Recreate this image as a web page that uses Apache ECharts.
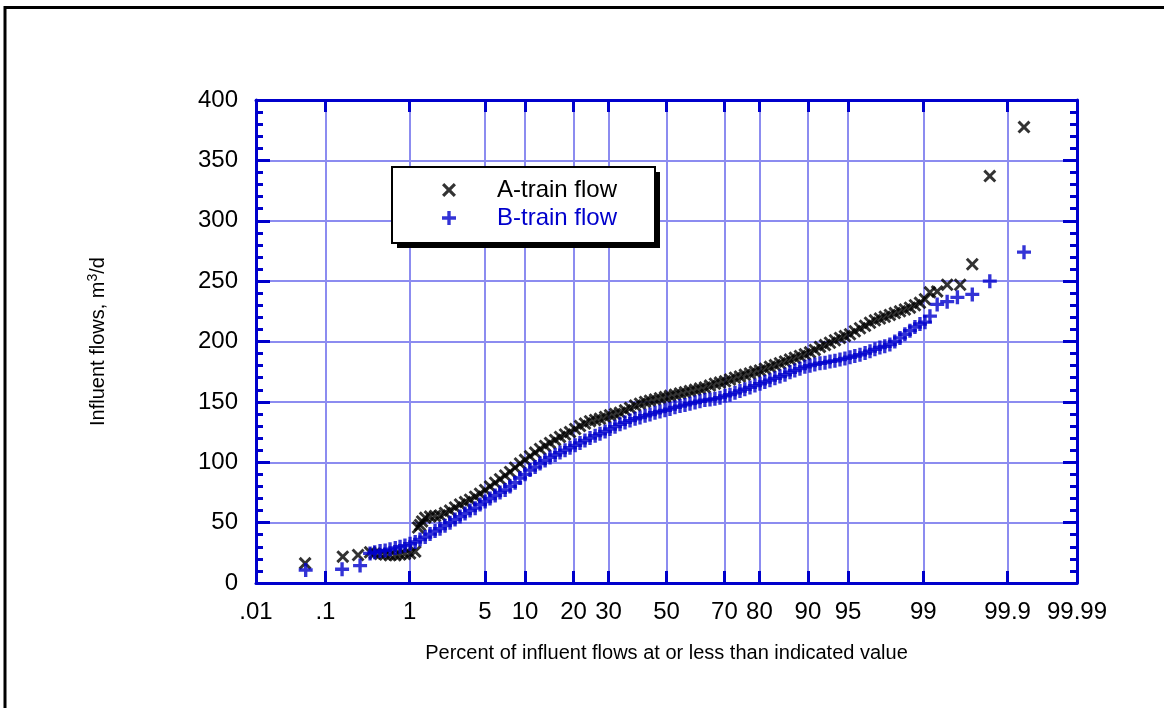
<!DOCTYPE html>
<html>
<head>
<meta charset="utf-8">
<script src="https://cdn.jsdelivr.net/npm/echarts@6/dist/echarts.min.js"></script>
<style>
  html, body { margin: 0; padding: 0; background: #fff; }
  #main { width: 1164px; height: 708px; }
</style>
</head>
<body>
<div id="main"></div>
<script>
"use strict"

// probability scale tick labels (percent)
var tickPct = [0.01, 0.1, 1, 5, 10, 20, 30, 50, 70, 80, 90, 95, 99, 99.9, 99.99];
var tickText = ['.01', '.1', '1', '5', '10', '20', '30', '50', '70', '80', '90', '95', '99', '99.9', '99.99'];

// A-train flow: percent at or below, flow m3/d
var aPct = [0.053, 0.168, 0.26, 0.362, 0.41, 0.473, 0.54, 0.613, 0.70, 0.789, 0.89, 1.008, 1.14, 1.22, 1.278, 1.34, 1.44,
  1.609, 1.80, 2.01, 2.24, 2.494, 2.77, 3.071, 3.40, 3.755, 4.15, 4.558, 5.02, 5.494, 6.03, 6.576, 7.19, 7.815, 8.51,
  9.225, 10.0, 10.815, 11.7, 12.594, 13.57, 14.565, 15.65, 16.735, 17.9, 19.104, 20.4, 21.666, 23.0, 24.419, 25.9,
  27.345, 28.9, 30.44, 32.05, 33.68, 35.35, 37.05, 38.8, 40.52, 42.3, 44.06, 45.85, 47.65, 49.45, 51.26, 53.05, 54.87,
  56.65, 58.43, 60.2, 61.92, 63.6, 65.32, 66.95, 68.6, 70.2, 71.74, 73.25, 74.72, 76.1, 77.53, 78.85, 80.15, 81.35,
  82.57, 83.7, 84.8, 85.85, 86.84, 87.75, 88.67, 89.5, 90.32, 91.05, 91.78, 92.45, 93.07, 93.65, 94.2, 94.7, 95.18,
  95.6, 96.02, 96.4, 96.74, 97.05, 97.34, 97.6, 97.85, 98.07, 98.28, 98.46, 98.63, 98.78, 98.917, 99.04,
  99.15, 99.29, 99.45, 99.61, 99.72, 99.83, 99.94];
var aFlow = [16.3, 21.8, 23.2, 25.5, 24.5, 24, 23.5, 23, 23, 23.5, 24, 24.5, 26, 46, 48, 51, 54,
  55, 55.5, 56, 58, 60, 62.5, 65, 67, 69, 71.5, 74, 77, 80, 83, 86, 89, 92, 95.5,
  99, 102, 105, 108, 111, 113.5, 116, 118.5, 121, 123, 125, 127.5, 130, 132, 134, 135,
  136, 137.5, 139, 140, 141, 143, 145, 147, 148.5, 150, 151, 152, 153, 154, 155, 156, 157,
  158, 159, 160, 161, 162, 163.5, 165, 166, 167, 168.5, 170, 171, 172.5, 173.5, 175, 176, 177.5,
  179, 180.5, 182, 183.5, 185, 186.5, 188, 189.5, 191, 193, 195.5, 197, 199, 201, 203, 204.5, 206,
  208.5, 211, 213, 215.5, 217.5, 219, 220.5, 222, 223.5, 225, 226.5, 228, 230, 232, 235,
  240.7, 241.5, 247, 247, 264, 337, 377.6];

// B-train flow
var bPct = [0.054, 0.1645, 0.275, 0.362, 0.41, 0.473, 0.54, 0.613, 0.70, 0.789, 0.89, 1.008, 1.14, 1.278, 1.44,
  1.609, 1.80, 2.01, 2.24, 2.494, 2.77, 3.071, 3.40, 3.755, 4.15, 4.558, 5.02, 5.494, 6.03, 6.576, 7.19, 7.815, 8.51,
  9.225, 10.0, 10.815, 11.7, 12.594, 13.57, 14.565, 15.65, 16.735, 17.9, 19.104, 20.4, 21.666, 23.0, 24.419, 25.9,
  27.345, 28.9, 30.44, 32.05, 33.68, 35.35, 37.05, 38.8, 40.52, 42.3, 44.06, 45.85, 47.65, 49.45, 51.26, 53.05, 54.87,
  56.65, 58.43, 60.2, 61.92, 63.6, 65.32, 66.95, 68.6, 70.2, 71.74, 73.25, 74.72, 76.1, 77.53, 78.85, 80.15, 81.35,
  82.57, 83.7, 84.8, 85.85, 86.84, 87.75, 88.67, 89.5, 90.32, 91.05, 91.78, 92.45, 93.07, 93.65, 94.2, 94.7, 95.18,
  95.6, 96.02, 96.4, 96.74, 97.05, 97.34, 97.6, 97.85, 98.07, 98.28, 98.46, 98.63, 98.78, 98.917, 99.04,
  99.15, 99.29, 99.45, 99.58, 99.72, 99.83, 99.94];
var bFlow = [10.8, 11.4, 14.4, 24.5, 25.5, 26.5, 27, 28, 29, 30, 31, 32.5, 34, 36, 38,
  40.5, 43, 45, 47.5, 50, 52.5, 55, 57.5, 60, 62, 65, 67.5, 70, 72.5, 75, 77, 80, 83,
  87, 90, 93.5, 96, 99, 101.5, 104, 106, 108, 110, 112, 114, 116, 118, 120, 122,
  123.5, 125.5, 127.5, 129.5, 131.5, 133, 134.5, 136, 137, 138.5, 139.5, 141, 142, 143, 144, 145.5, 146.5,
  147.5, 148.5, 149.5, 150.5, 151.5, 152, 152.5, 153.5, 155, 156, 157.5, 159, 160.5, 162, 163.5, 165, 166.5,
  168, 169.5, 171, 172.5, 174.5, 176, 177.5, 179, 180, 181, 182, 182.5, 183.5, 184, 185, 186, 187,
  188, 189, 190.5, 192, 193.5, 195, 196, 197.5, 200, 203, 206, 209, 212, 214.5, 216,
  221, 230.7, 233, 236.6, 239, 250, 274];

// inverse normal cdf (Acklam) for the probability axis
function probit(p) {
  var a = [-3.969683028665376e+01, 2.209460984245205e+02, -2.759285104469687e+02, 1.383577518672690e+02, -3.066479806614716e+01, 2.506628277459239e+00];
  var b = [-5.447609879822406e+01, 1.615858368580409e+02, -1.556989798598866e+02, 6.680131188771972e+01, -1.328068155288572e+01];
  var c = [-7.784894002430293e-03, -3.223964580411365e-01, -2.400758277161838e+00, -2.549732539343734e+00, 4.374664141464968e+00, 2.938163982698783e+00];
  var d = [7.784695709041462e-03, 3.224671290700398e-01, 2.445134137142996e+00, 3.754408661907416e+00];
  var pl = 0.02425, q, r;
  if (p < pl) {
    q = Math.sqrt(-2 * Math.log(p));
    return (((((c[0] * q + c[1]) * q + c[2]) * q + c[3]) * q + c[4]) * q + c[5]) / ((((d[0] * q + d[1]) * q + d[2]) * q + d[3]) * q + 1);
  }
  if (p <= 1 - pl) {
    q = p - 0.5; r = q * q;
    return (((((a[0] * r + a[1]) * r + a[2]) * r + a[3]) * r + a[4]) * r + a[5]) * q / (((((b[0] * r + b[1]) * r + b[2]) * r + b[3]) * r + b[4]) * r + 1);
  }
  q = Math.sqrt(-2 * Math.log(1 - p));
  return -(((((c[0] * q + c[1]) * q + c[2]) * q + c[3]) * q + c[4]) * q + c[5]) / ((((d[0] * q + d[1]) * q + d[2]) * q + d[3]) * q + 1);
}

function toPoints(pct, flow) {
  var out = [];
  for (var i = 0; i < pct.length; i++) out.push([probit(pct[i] / 100), flow[i]]);
  return out;
}

var tickZ = tickPct.map(function (p) { return probit(p / 100); });
var zMin = tickZ[0], zMax = tickZ[tickZ.length - 1];

function tickLabel(v) {
  for (var i = 0; i < tickZ.length; i++) {
    if (Math.abs(tickZ[i] - v) < 1e-6) return tickText[i];
  }
  return '';
}

var BLUE = '#0000cc';
var GRID = '#8c8cf0';
var FONT = '"Liberation Sans", Arial, sans-serif';

// marker shapes: x for A-train, + for B-train
var crossPath = 'path://M0,1.6L1.6,0L5,3.4L8.4,0L10,1.6L6.6,5L10,8.4L8.4,10L5,6.6L1.6,10L0,8.4L3.4,5Z';
var plusPath = 'path://M3.8,0H6.2V3.8H10V6.2H6.2V10H3.8V6.2H0V3.8H3.8Z';

var myChart = echarts.init(document.getElementById('main'));

var xBase = {
  type: 'value',
  min: zMin,
  max: zMax,
  axisLine: { show: true, onZero: false, lineStyle: { color: BLUE, width: 3 } },
  axisTick: { show: true, inside: true, length: 12, customValues: tickZ, lineStyle: { color: BLUE, width: 3 } }
};

var yBase = {
  type: 'value', min: 0, max: 400, interval: 50,
  axisLine: { show: true, onZero: false, lineStyle: { color: BLUE, width: 3 } },
  axisTick: { show: true, inside: true, length: 14, lineStyle: { color: BLUE, width: 3 } },
  minorTick: { show: true, splitNumber: 5, length: 7, lineStyle: { color: BLUE, width: 3 } }
};

var option = {
  backgroundColor: '#fff',
  animation: false,
  textStyle: { fontFamily: FONT },
  grid: { left: 256, right: 87, top: 100, bottom: 125, containLabel: false },
  graphic: [
    {
      type: 'rect',
      shape: { x: 5, y: 7.5, width: 1400, height: 900 },
      style: { fill: 'none', stroke: '#000', lineWidth: 3 },
      silent: true
    },
    // legend box with its drop shadow
    {
      type: 'rect', z: 3,
      shape: { x: 397, y: 172, width: 263, height: 76 },
      style: { fill: '#000' },
      silent: true
    },
    {
      type: 'rect', z: 3,
      shape: { x: 392, y: 167, width: 263, height: 76 },
      style: { fill: '#fff', stroke: '#000', lineWidth: 2 },
      silent: true
    }
  ],
  legend: {
    left: 392, top: 167, z: 5,
    orient: 'vertical',
    itemWidth: 14, itemHeight: 14,
    itemGap: 4,
    padding: [11, 20, 14, 50],
    textStyle: { fontSize: 24, fontFamily: FONT, padding: [0, 0, 0, 36] },
    data: [
      { name: 'A-train flow', icon: crossPath, textStyle: { color: '#000' } },
      { name: 'B-train flow', icon: plusPath, textStyle: { color: BLUE } }
    ]
  },
  xAxis: [
    Object.assign({}, xBase, {
      position: 'bottom',
      name: 'Percent of influent flows at or less than indicated value',
      nameLocation: 'middle',
      nameGap: 60,
      nameTextStyle: { fontSize: 20, color: '#000', fontFamily: FONT },
      axisLabel: {
        show: true, customValues: tickZ, margin: 17, fontSize: 24, color: '#000', fontFamily: FONT,
        showMinLabel: true, showMaxLabel: true, formatter: tickLabel
      },
      splitLine: { show: true, lineStyle: { color: GRID, width: 2 } }
    }),
    Object.assign({}, xBase, {
      position: 'top',
      axisLabel: { show: false },
      splitLine: { show: false }
    })
  ],
  yAxis: [
    Object.assign({}, yBase, {
      position: 'left',
      name: 'Influent flows, m{sup|3}/d',
      nameLocation: 'middle',
      nameGap: 146,
      nameRotate: 90,
      nameTextStyle: {
        fontSize: 20, color: '#000', fontFamily: FONT,
        rich: { sup: { fontSize: 14, verticalAlign: 'top', padding: [0, 0, 10, 0], fontFamily: FONT } }
      },
      axisLabel: { margin: 18, fontSize: 24, color: '#000', fontFamily: FONT },
      splitLine: { show: true, lineStyle: { color: GRID, width: 2 } }
    }),
    Object.assign({}, yBase, {
      position: 'right',
      axisLabel: { show: false },
      splitLine: { show: false }
    })
  ],
  series: [
    {
      name: 'A-train flow',
      type: 'scatter',
      symbol: crossPath,
      symbolSize: 13,
      itemStyle: { color: '#000' },
      data: toPoints(aPct, aFlow)
    },
    {
      name: 'B-train flow',
      type: 'scatter',
      symbol: plusPath,
      symbolSize: 14,
      itemStyle: { color: BLUE },
      data: toPoints(bPct, bFlow)
    }
  ]
};

if (option && typeof option === "object") {
  myChart.setOption(option, true);
}
</script>
</body>
</html>
